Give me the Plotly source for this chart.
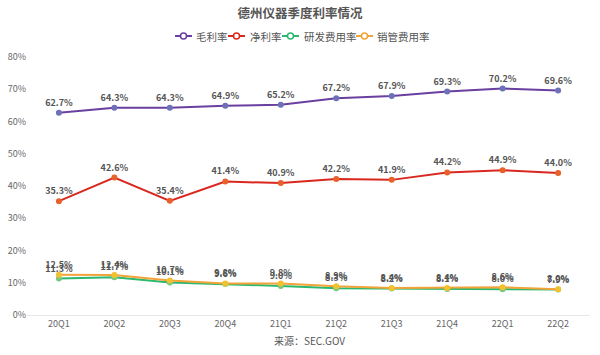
import plotly.graph_objects as go

quarters = ["20Q1", "20Q2", "20Q3", "20Q4", "21Q1", "21Q2", "21Q3", "21Q4", "22Q1", "22Q2"]
gross_margin = [62.7, 64.3, 64.3, 64.9, 65.2, 67.2, 67.9, 69.3, 70.2, 69.6]
net_margin = [35.3, 42.6, 35.4, 41.4, 40.9, 42.2, 41.9, 44.2, 44.9, 44.0]
rd_ratio = [11.3, 11.7, 10.1, 9.6, 9.0, 8.3, 8.2, 8.1, 8.0, 7.9]
sga_ratio = [12.5, 12.4, 10.7, 9.8, 9.8, 8.9, 8.4, 8.4, 8.6, 8.0]
series_names = ["毛利率", "净利率", "研发费用率", "销管费用率"]

FONT = "Noto Sans CJK SC"
W, H = 600, 355
L, R, T, B = 27, 10, 57, 40
PW, PH = W - L - R, H - T - B

line_colors = ["#6A3FA0", "#D9281F", "#2DB870", "#F2A33A"]
marker_colors = ["#6D72B8", "#E8602A", "#7BC77E", "#F2C12E"]
values = [gross_margin, net_margin, rd_ratio, sga_ratio]


def px(x):
    return (x - L) / PW


def py(y):
    return (H - B - y) / PH


fig = go.Figure()
for name, vals, lc, mc in zip(series_names, values, line_colors, marker_colors):
    fig.add_trace(go.Scatter(
        x=quarters, y=vals, name=name,
        mode="lines+markers+text",
        line=dict(color=lc, width=2),
        marker=dict(color=mc, size=6),
        text=[f"{v:.1f}%" for v in vals],
        textposition="top center",
        textfont=dict(family=FONT, size=9, color="#555555", weight="bold"),
        cliponaxis=False,
        showlegend=False,
        hoverinfo="skip",
    ))

# compact legend drawn like the reference
legend_pos = [(175, 194), (228, 248), (282, 302), (356, 375)]
LY = 36
for (s, t), name, lc in zip(legend_pos, series_names, line_colors):
    fig.add_shape(type="line", xref="paper", yref="paper",
                  x0=px(s), x1=px(s + 17), y0=py(LY), y1=py(LY),
                  line=dict(color=lc, width=2))
    fig.add_shape(type="circle", xref="paper", yref="paper",
                  x0=px(s + 8.5 - 3), x1=px(s + 8.5 + 3), y0=py(LY - 3), y1=py(LY + 3),
                  line=dict(color=lc, width=1.5), fillcolor="white")
    fig.add_annotation(text=name, xref="paper", yref="paper", x=px(t), y=py(LY),
                       xanchor="left", yanchor="middle", showarrow=False,
                       font=dict(family=FONT, size=10.5, color="#555555"))

fig.update_layout(
    width=W, height=H,
    margin=dict(l=L, r=R, t=T, b=B, autoexpand=False),
    paper_bgcolor="white", plot_bgcolor="white",
    font=dict(family=FONT, color="#666666", size=9),
    title=dict(text="<b>德州仪器季度利率情况</b>", x=0.5, xanchor="center",
               y=1 - 14 / H, yref="container", yanchor="middle",
               pad=dict(t=0, b=0, l=0, r=0),
               font=dict(family=FONT, size=12.5, color="#555555")),
    showlegend=False,
)

fig.update_xaxes(
    type="category", showgrid=False, showline=True, linecolor="#E6E6E6", linewidth=1,
    ticks="", automargin=False, tickfont=dict(family=FONT, size=9, color="#666666"),
)
fig.update_yaxes(
    range=[0, 80], dtick=10, ticksuffix="%", showgrid=False, zeroline=False,
    showline=False, automargin=False, tickfont=dict(family=FONT, size=9, color="#666666"),
)

fig.add_annotation(text="来源：SEC.GOV", xref="paper", yref="paper", x=px(310), y=py(340),
                   xanchor="center", yanchor="middle", showarrow=False,
                   font=dict(family=FONT, size=10, color="#555555"))

fig.write_html("out.html", config={"displayModeBar": False},
               post_script="document.body.style.margin='0';")
